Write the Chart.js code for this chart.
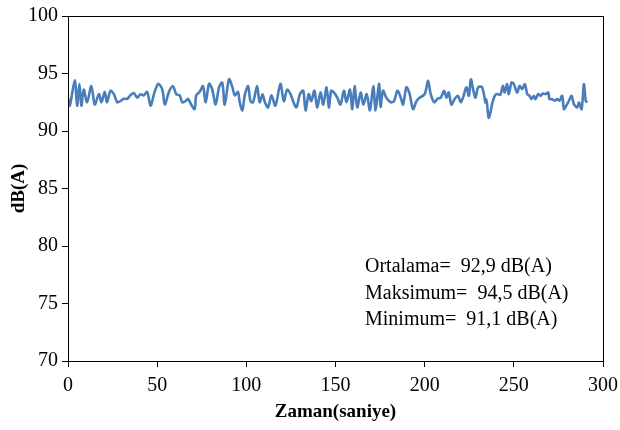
<!DOCTYPE html>
<html>
<head>
<meta charset="utf-8">
<script src="https://cdn.jsdelivr.net/npm/chart.js@4.4.1/dist/chart.umd.min.js"></script>
<style>
  html, body { margin: 0; padding: 0; background: #fff; }
  #kutu { width: 620px; height: 430px; }
</style>
</head>
<body>
<div id="kutu"><canvas id="grafik"></canvas></div>
<script>
// zaman (saniye) ve ses seviyesi dB(A)
const zaman = [
  0, 1, 3.8, 5.1, 6.4, 7.5, 8.8, 10.7, 13.1, 15, 17.3, 18.8, 20.6, 21.9, 23.8, 25.7, 27.6, 29.4,
  31.3, 33.2, 35, 36.9, 38.8, 40.7, 42.5, 44.4, 46.3, 48.2, 50.6, 52.9, 54.3, 56.6, 58.8,
  60.7, 62.6, 64.1, 65.9, 67.3, 69.1, 71, 71.9, 73.8, 75.7, 77.2, 79.1, 80.9, 82.8, 84.7,
  86.5, 87.9, 90.3, 92.2, 93.5, 95.3, 96.3, 97.8, 99.1, 101, 102.3, 103.8, 106, 107.5,
  109.1, 110.4, 112.2, 114.1, 116.3, 119.1, 121, 122.9, 124.8, 126.2, 128.1, 130, 131.9,
  133.2, 135, 136.4, 138.2, 139.7, 141.6, 143.1, 145, 146.3, 147.6, 149.1, 151, 152.8,
  154.7, 156.2, 158.1, 159.4, 160.7, 162.2, 164.1, 165.6, 167.5, 169.3, 171.2, 172.5,
  174.4, 175.3, 176.6, 178.5, 181, 182.8, 184.7, 186.6, 187.9, 189.8, 191.6, 193.5, 195.4,
  197.2, 199.1, 200.4, 201.9, 203.4, 205.3, 207.2, 209, 210.9, 212.2, 213.5, 215, 216.9,
  218.7, 220.2, 221.5, 223.4, 224.8, 225.9, 227.2, 228.5, 230, 232.2, 234.1, 234.4, 235,
  235.9, 236.9, 237.8, 239.3, 240.6, 242.5, 243.8, 244.9, 246.2, 247.2, 248.7, 250, 251.9,
  253.2, 254.7, 256.2, 257.5, 258.8, 259.9, 261.2, 262.2, 263.7, 265, 266.3, 267.8, 269.3,
  270, 271.5, 273, 274.3, 275.6, 277.1, 278.1, 279.4, 280.9, 282.4, 283.7, 285.6, 286.5,
  288, 289.3, 290.3, 291.2
];
const seviye = [
  92.9, 92.2, 94.4, 92.2, 94.1, 92.2, 93.6, 92.5, 93.9, 92.3, 93.2, 92.5, 93.4, 92.5, 93.5, 93.2, 92.5, 92.6,
  92.8, 92.8, 93.1, 93.3, 92.9, 93.2, 93.1, 93.4, 92.2, 93.2, 94.1, 93.6, 92.3, 93.4, 93.9,
  93.2, 93.1, 92.5, 92.6, 92.8, 92.3, 91.9, 93.1, 93.4, 93.9, 92.5, 94.1, 93.6, 92.3, 93.8,
  94.2, 92.3, 94.5, 93.8, 93.1, 93.4, 92.5, 91.8, 93.1, 93.9, 92.6, 92.5, 93.9, 92.5,
  93.2, 92.5, 92.05, 93.1, 92.2, 94.1, 92.6, 93.6, 93.2, 92.6, 92.05, 93.2, 93.5,
  91.8, 93.2, 92.6, 93.5, 92.05, 93.35, 92.3, 93.8, 92.05, 93.5, 93.35, 92.9, 92.3,
  93.5, 92.5, 93.6, 91.9, 93.9, 92.05, 93.35, 92.3, 93.2, 91.8, 93.9, 91.8,
  94.1, 92.1, 93.5, 92.9, 92.5, 92.6, 93.5, 92.9, 92.3, 93.8, 93.2, 91.9, 92.6,
  92.9, 93.06, 93.35, 94.36, 93.2, 92.5, 92.8, 92.9, 93.5, 92.9, 93.35, 92.3, 92.8,
  93.06, 92.5, 92.9, 93.8, 93.06, 94.5, 93.6, 92.9, 93.8, 93.8, 92.48, 92.77, 92.34,
  91.15, 91.62, 92.34, 93.06, 93.21, 93.15, 93.93, 93.35, 94.07, 93.21, 94.22, 94.07, 93.35,
  93.93, 93.64, 94.07, 93.21, 93.06, 92.77, 93.06, 92.77, 93.21, 93.06, 93.26, 93.21, 93.35,
  92.77, 92.77, 92.63, 92.77, 92.63, 93.06, 91.9, 92.2, 92.63, 93.06, 92.34, 92.05, 92.48,
  91.9, 94.07, 92.63, 92.48
];
const xTikler = [0, 50, 100, 150, 200, 250, 300];
const yTikler = [70, 75, 80, 85, 90, 95, 100];
const notlar = ['Ortalama=  92,9 dB(A)', 'Maksimum=  94,5 dB(A)', 'Minimum=  91,1 dB(A)'];

const yazi = "'Liberation Serif', 'Times New Roman', serif";

const noktalar = zaman.map((t, i) => ({ x: t, y: seviye[i] }));

// cizim alaninin etrafina cerceve + istatistik yazilari
const cerceve = {
  id: 'cerceve',
  afterDraw(chart) {
    const { ctx, chartArea: a } = chart;
    ctx.save();
    ctx.strokeStyle = '#000';
    ctx.lineWidth = 1;
    ctx.strokeRect(a.left + 0.5, a.top + 0.5, a.right - a.left, a.bottom - a.top);
    ctx.fillStyle = '#000';
    ctx.font = '20px ' + yazi;
    ctx.textBaseline = 'middle';
    notlar.forEach((s, i) => {
      ctx.fillText(s, a.left + 297, a.top + 251 + i * 26.5);
    });
    ctx.restore();
  }
};

new Chart(document.getElementById('grafik'), {
  type: 'line',
  data: {
    datasets: [{
      data: noktalar,
      borderColor: '#4a7ebb',
      borderWidth: 2.6,
      pointRadius: 0,
      tension: 0.3,
      fill: false
    }]
  },
  options: {
    responsive: true,
    maintainAspectRatio: false,
    animation: false,
    layout: { padding: { left: 0, right: 17, top: 15, bottom: 0 } },
    plugins: { legend: { display: false }, tooltip: { enabled: false } },
    scales: {
      x: {
        type: 'linear',
        min: 0, max: 300,
        afterBuildTicks: s => { s.ticks = xTikler.map(v => ({ value: v })); },
        afterFit: s => { s.height = 69; s.paddingLeft = 0; s.paddingRight = 0; },
        grid: { drawOnChartArea: false, drawTicks: true, tickLength: 6, color: '#000' },
        border: { color: '#000', width: 1 },
        ticks: { color: '#000', font: { family: yazi, size: 20 }, padding: 7, maxRotation: 0 },
        title: { display: true, text: 'Zaman(saniye)', color: '#000',
                 font: { family: yazi, size: 19, weight: 'bold' }, padding: { top: 0, bottom: 7 } }
      },
      y: {
        min: 70, max: 100,
        afterBuildTicks: s => { s.ticks = yTikler.map(v => ({ value: v })); },
        afterFit: s => { s.width = 68; },
        grid: { drawOnChartArea: false, drawTicks: true, tickLength: 6, color: '#000' },
        border: { color: '#000', width: 1 },
        ticks: { color: '#000', font: { family: yazi, size: 20 }, padding: 4 },
        title: { display: true, text: 'dB(A)', color: '#000',
                 font: { family: yazi, size: 19, weight: 'bold' }, padding: { top: 8, bottom: 0 } }
      }
    }
  },
  plugins: [cerceve]
});
</script>
</body>
</html>
